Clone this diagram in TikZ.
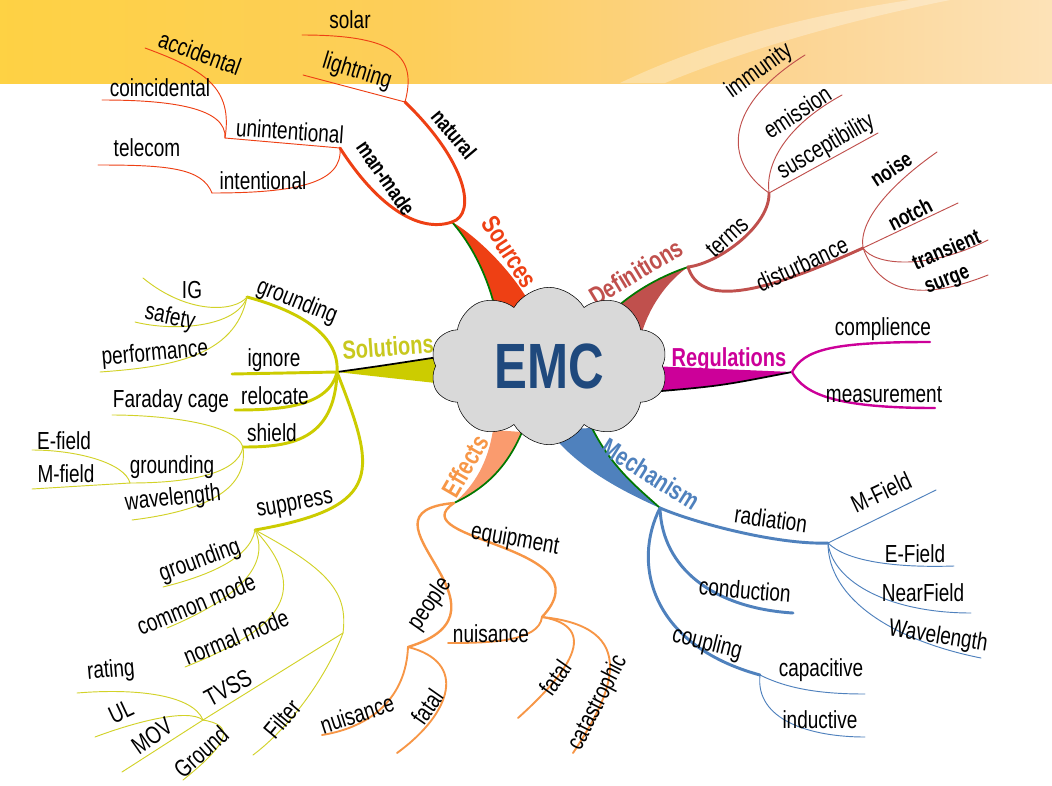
\documentclass[tikz,border=0pt]{standalone}
\usepackage{fontspec}
\setmainfont{Liberation Sans}[FakeStretch=0.77]
\usetikzlibrary{shapes.symbols}

\definecolor{srcc}{RGB}{238,64,20}
\definecolor{defc}{RGB}{192,80,77}
\definecolor{regc}{RGB}{204,0,153}
\definecolor{mecc}{RGB}{79,129,189}
\definecolor{effc}{RGB}{247,150,70}
\definecolor{effl}{RGB}{250,155,110}
\definecolor{solc}{RGB}{204,204,0}
\definecolor{sollc}{RGB}{210,210,40}
\definecolor{solt}{RGB}{200,200,30}
\definecolor{grn}{RGB}{0,120,0}
\definecolor{cloudc}{RGB}{217,217,217}
\definecolor{emcc}{RGB}{31,73,125}
\definecolor{bandA}{RGB}{255,214,40}
\definecolor{bandB}{RGB}{253,206,90}
\definecolor{bandC}{RGB}{252,212,145}
\definecolor{bandD}{RGB}{253,236,210}
\pgfdeclarehorizontalshading{bandshade}{100bp}{color(0bp)=(bandA); color(45bp)=(bandB); color(62bp)=(bandC); color(84bp)=(bandD); color(94bp)=(white); color(100bp)=(white)}

\newcommand\lblfont{\fontsize{18.5}{20}\selectfont}
\newcommand\boldlblfont{\bfseries\fontsize{16.5}{18}\selectfont}
\newcommand\headfont{\bfseries\fontsize{19.5}{21}\selectfont}

\tikzset{
  lbl/.style={font=\lblfont, inner sep=0pt},
  blbl/.style={font=\boldlblfont, inner sep=0pt},
  headlbl/.style={font=\headfont, inner sep=0pt},
  fat/.style={line width=2.2pt},
  twig/.style={line width=0.7pt},
  rim/.style={line width=1.3pt},
}

\begin{document}
\begin{tikzpicture}[x=0.75pt, y=-0.75pt, line cap=round, line join=round]
\useasboundingbox (0,0) rectangle (1052,785);
\fill[white] (0,0) rectangle (1052,785);
% Top band
\shade[shading=bandshade] (0,0) rectangle (1052,83);
\fill[white, opacity=0.3] (620,83) .. controls (710,40) and (810,15) .. (910,0) -- (950,0) .. controls (840,22) and (740,52) .. (665,83) -- cycle;

% Sources
\coordinate (SJ) at (452,222);
\coordinate (SrcA) at (497,318);
\coordinate (SrcB) at (528,300);
\fill[srcc] (SJ) .. controls (478,252) and (492,290) .. (SrcA) -- (SrcB) .. controls (505,262) and (470,232) .. (SJ);
\draw[grn,rim] (SJ) .. controls (478,252) and (492,290) .. (SrcA);
\coordinate (NatE) at (405,102);
\coordinate (ManE) at (340,148);
\draw[srcc,fat] (SJ) .. controls +(25,-8) and +(62,60) .. (NatE);
\draw[srcc,fat] (SJ) .. controls +(-35,12) and +(35,55) .. (ManE);
\node[blbl,rotate=-50] (natural) at (454,134) {natural};
\node[blbl,rotate=-55] (manmade) at (386,178) {man-made};
\coordinate (LigE) at (303,75);
\coordinate (SolE) at (302,35);
\draw[srcc,twig] (NatE) -- (LigE);
\draw[srcc,twig] (NatE) .. controls +(12,-45) and +(95,0) .. (SolE);
\node[lbl,rotate=-17] (lightning) at (357,72) {lightning};
\node[lbl] (solar) at (350,20) {solar};
\coordinate (UniE) at (225,138);
\coordinate (IntE) at (212,193);
\draw[srcc,twig] (ManE) -- (UniE);
\draw[srcc,twig] (ManE) .. controls +(3,35) and +(85,0) .. (IntE);
\node[lbl,rotate=-4] (unint) at (290,131) {unintentional};
\node[lbl] (intent) at (263,181) {intentional};
\coordinate (CoiE) at (102,100);
\coordinate (AccE) at (145,48);
\coordinate (TelE) at (98,165);
\draw[srcc,twig] (UniE) .. controls +(2,-30) and +(70,0) .. (CoiE);
\draw[srcc,twig] (UniE) .. controls +(8,-50) and +(60,22) .. (AccE);
\draw[srcc,twig] (IntE) .. controls +(-10,-25) and +(70,0) .. (TelE);
\node[lbl] (coinc) at (160,88) {coincidental};
\node[lbl,rotate=-20] (accid) at (200,53) {accidental};
\node[lbl] (telecom) at (147,148) {telecom};
\node[headlbl,text=srcc,rotate=-57] (sources) at (510,252) {Sources};

% Definitions
\coordinate (DJ) at (688,267);
\coordinate (DefA) at (598,326);
\coordinate (DefB) at (642,332);
\fill[defc] (DJ) .. controls (655,278) and (622,298) .. (DefA) -- (DefB) .. controls (652,300) and (672,278) .. (DJ);
\draw[grn,rim] (DJ) .. controls (655,278) and (622,298) .. (DefA);
\coordinate (TerE) at (769,193);
\coordinate (DisE) at (863,248);
\draw[defc,fat] (DJ) .. controls +(32,-4) and +(1,32) .. (TerE);
\draw[defc,fat] (DJ) .. controls +(12,38) and +(-110,50) .. (DisE);
\node[lbl,rotate=42] (terms) at (727,237) {terms};
\node[lbl,rotate=25] (disturb) at (802,264) {disturbance};
\coordinate (ImmE) at (805,55);
\coordinate (EmiE) at (842,95);
\coordinate (SusE) at (878,133);
\draw[defc,twig] (TerE) .. controls +(-47,-33) and +(-80,50) .. (ImmE);
\draw[defc,twig] (TerE) .. controls +(-4,-30) and +(-55,30) .. (EmiE);
\draw[defc,twig] (TerE) -- (SusE);
\node[lbl,rotate=36] (immun) at (759,71) {immunity};
\node[lbl,rotate=33] (emiss) at (797,112) {emission};
\node[lbl,rotate=30] (suscep) at (826,147) {susceptibility};
\coordinate (NoiE) at (937,152);
\coordinate (NotE) at (958,203);
\coordinate (TraE) at (988,240);
\coordinate (SurE) at (988,275);
\draw[defc,twig] (DisE) .. controls +(-5,-30) and +(-40,28) .. (NoiE);
\draw[defc,twig] (DisE) -- (NotE);
\draw[defc,twig] (DisE) .. controls +(12,18) and +(-60,30) .. (TraE);
\draw[defc,twig] (DisE) .. controls +(15,40) and +(-75,30) .. (SurE);
\node[blbl,rotate=33] (noise) at (891,169) {noise};
\node[blbl,rotate=27] (notch) at (910,214) {notch};
\node[blbl,rotate=23] (transient) at (946,249) {transient};
\node[blbl,rotate=22] (surge) at (948,282) {surge};
\node[headlbl,text=defc,rotate=31] (defin) at (636,272) {Definitions};

% Regulations
\coordinate (RJ) at (792,372);
\coordinate (RegA) at (650,366);
\coordinate (RegB) at (650,392);
\fill[regc] (RJ) -- (RegA) -- (RegB) .. controls (720,386) .. (RJ);
\draw[black,rim] (RegB) .. controls (720,386) .. (RJ);
\coordinate (ComE) at (930,342);
\coordinate (MeaE) at (935,408);
\draw[regc,line width=1.8pt] (RJ) .. controls +(12,-22) and +(-100,0) .. (ComE);
\draw[regc,line width=1.8pt] (RJ) .. controls +(12,22) and +(-100,0) .. (MeaE);
\node[lbl] (compl) at (883,329) {complience};
\node[lbl] (measure) at (884,395) {measurement};
\node[headlbl,text=regc] (regul) at (729,360) {Regulations};

% Mechanism
\coordinate (MJ) at (660,508);
\coordinate (MecA) at (548,430);
\coordinate (MecB) at (592,428);
\fill[mecc] (MJ) .. controls (615,488) and (575,465) .. (MecA) -- (MecB) .. controls (612,468) and (638,488) .. (MJ);
\draw[grn,rim] (MecB) .. controls (612,468) and (638,488) .. (MJ);
\coordinate (RadE) at (828,543);
\coordinate (ConE) at (793,613);
\coordinate (CouE) at (760,675);
\draw[mecc,fat] (MJ) .. controls +(35,15) and +(-50,2) .. (RadE);
\draw[mecc,fat] (MJ) .. controls +(2,60) and +(-80,-5) .. (ConE);
\draw[mecc,fat] (MJ) .. controls +(-28,55) and +(-110,-30) .. (CouE);
\node[lbl,rotate=-8] (radiat) at (771,519) {radiation};
\node[lbl,rotate=-5] (conduct) at (745,590) {conduction};
\node[lbl,rotate=-14] (coupl) at (707,644) {coupling};
\coordinate (MfE) at (936,490);
\coordinate (EfE) at (954,566);
\coordinate (NfE) at (971,613);
\coordinate (WlE) at (981,658);
\draw[mecc,twig] (RadE) -- (MfE);
\draw[mecc,twig] (RadE) .. controls +(18,18) and +(-60,2) .. (EfE);
\draw[mecc,twig] (RadE) .. controls +(5,40) and +(-80,0) .. (NfE);
\draw[mecc,twig] (RadE) .. controls +(0,55) and +(-90,-18) .. (WlE);
\node[lbl,rotate=25] (mfield) at (881,492) {M-Field};
\node[lbl] (efield) at (915,554) {E-Field};
\node[lbl] (nearf) at (923,593) {NearField};
\node[lbl,rotate=-9] (wavel) at (938,637) {Wavelength};
\coordinate (CapE) at (865,694);
\coordinate (IndE) at (865,737);
\draw[mecc,twig] (CouE) .. controls +(30,15) and +(-40,0) .. (CapE);
\draw[mecc,twig] (CouE) .. controls +(-5,45) and +(-55,0) .. (IndE);
\node[lbl] (capac) at (821,670) {capacitive};
\node[lbl] (induc) at (820,720) {inductive};
\node[headlbl,text=mecc,rotate=-32] (mech) at (651,474) {Mechanism};

% Effects
\coordinate (EJ) at (454,503);
\coordinate (EffA) at (493,430);
\coordinate (EffB) at (522,432);
\fill[effl] (EJ) .. controls (475,485) and (488,462) .. (EffA) -- (EffB) .. controls (506,470) and (482,490) .. (EJ);
\draw[grn,rim] (EffB) .. controls (506,470) and (482,490) .. (EJ);
\coordinate (PeoE) at (408,647);
\coordinate (EquE) at (542,617);
\draw[effc,line width=1.8pt] (EJ) .. controls +(-110,10) and +(122,-37) .. (PeoE);
\draw[effc,line width=1.8pt] (EJ) .. controls +(-56,38) and +(68,-72) .. (EquE);
\node[lbl,rotate=55] (people) at (430,604) {people};
\node[lbl,rotate=-10] (equip) at (515,540) {equipment};
\coordinate (Nu1E) at (322,735);
\coordinate (Fa1E) at (397,753);
\draw[effc,line width=1.4pt] (PeoE) .. controls +(-2,50) and +(50,-8) .. (Nu1E);
\draw[effc,line width=1.4pt] (PeoE) .. controls +(60,15) and +(55,-40) .. (Fa1E);
\node[lbl,rotate=18] (nuis1) at (357,714) {nuisance};
\node[lbl,rotate=55] (fatal1) at (427,707) {fatal};
\coordinate (Nu2E) at (448,643);
\coordinate (Fa2E) at (518,718);
\coordinate (CatE) at (573,753);
\draw[effc,line width=1.4pt] (EquE) .. controls +(-3,25) and +(40,0) .. (Nu2E);
\draw[effc,line width=1.4pt] (EquE) .. controls +(60,10) and +(50,-45) .. (Fa2E);
\draw[effc,line width=1.4pt] (EquE) .. controls +(100,10) and +(40,-60) .. (CatE);
\node[lbl] (nuis2) at (491,634) {nuisance};
\node[lbl,rotate=55] (fatal2) at (555,678) {fatal};
\node[lbl,rotate=63] (catast) at (598,703) {catastrophic};
\node[headlbl,text=effc,rotate=60] (effects) at (465,466) {Effects};

% Solutions
\coordinate (LJ) at (337,372);
\coordinate (SolA) at (445,356);
\coordinate (SolB) at (445,384);
\fill[solc] (LJ) .. controls (380,366) .. (SolA) -- (SolB) .. controls (390,378) .. (LJ);
\draw[black,rim] (LJ) .. controls (380,366) .. (SolA);
\coordinate (GrE) at (247,297);
\coordinate (IgnE) at (232,374);
\coordinate (RelE) at (235,410);
\coordinate (ShE) at (243,447);
\coordinate (SupE) at (255,530);
\draw[solc,fat] (LJ) .. controls +(3,-40) and +(45,12) .. (GrE);
\draw[solc,fat] (LJ) -- (IgnE);
\draw[solc,fat] (LJ) .. controls +(-8,35) and +(45,0) .. (RelE);
\draw[solc,fat] (LJ) .. controls +(-2,70) and +(45,0) .. (ShE);
\draw[solc,fat] (LJ) .. controls +(38,98) and +(132,-23) .. (SupE);
\node[lbl,rotate=-22] (ground1) at (297,302) {grounding};
\node[lbl] (ignore) at (274,360) {ignore};
\node[lbl] (reloc) at (275,396) {relocate};
\node[lbl] (shield) at (272,433) {shield};
\node[lbl,rotate=10] (suppr) at (295,506) {suppress};
\coordinate (IGE) at (143,278);
\coordinate (SafE) at (135,322);
\coordinate (PerE) at (100,372);
\draw[sollc,twig] (GrE) .. controls +(-12,15) and +(45,37) .. (IGE);
\draw[sollc,twig] (GrE) .. controls +(-10,30) and +(40,10) .. (SafE);
\draw[sollc,twig] (GrE) .. controls +(-12,60) and +(70,-5) .. (PerE);
\node[lbl] (ig) at (192,290) {IG};
\node[lbl,rotate=-12] (safety) at (170,318) {safety};
\node[lbl,rotate=5] (perf) at (155,354) {performance};
\coordinate (FarE) at (112,415);
\coordinate (Gr2E) at (130,483);
\coordinate (WavE) at (132,520);
\draw[sollc,twig] (ShE) .. controls +(-8,-25) and +(45,0) .. (FarE);
\draw[sollc,twig] (ShE) .. controls +(-5,28) and +(55,0) .. (Gr2E);
\draw[sollc,twig] (ShE) .. controls +(5,40) and +(80,-10) .. (WavE);
\node[lbl] (faraday) at (171,401) {Faraday cage};
\node[lbl] (ground2) at (172,467) {grounding};
\node[lbl,rotate=6] (wave2) at (173,499) {wavelength};
\coordinate (EfdE) at (32,450);
\coordinate (MfdE) at (32,489);
\draw[sollc,twig] (Gr2E) .. controls +(-5,-20) and +(45,0) .. (EfdE);
\draw[sollc,twig] (Gr2E) -- (MfdE);
\node[lbl] (efd) at (64,441) {E-field};
\node[lbl] (mfd) at (66,474) {M-field};
\coordinate (Gr3E) at (163,587);
\coordinate (CmE) at (167,628);
\coordinate (NmE) at (185,667);
\coordinate (FilJ) at (343,633);
\coordinate (TvE) at (203,720);
\coordinate (FilE) at (253,755);
\draw[sollc,twig] (SupE) .. controls +(-5,30) and +(40,-10) .. (Gr3E);
\draw[sollc,twig] (SupE) .. controls +(18,40) and +(60,-25) .. (CmE);
\draw[sollc,twig] (SupE) .. controls +(55,60) and +(100,-40) .. (NmE);
\draw[sollc,twig] (SupE) .. controls +(75,40) and +(5,-40) .. (FilJ) -- (TvE);
\draw[sollc,twig] (FilJ) .. controls +(-15,40) and +(40,-30) .. (FilE);
\node[lbl,rotate=20] (ground3) at (200,561) {grounding};
\node[lbl,rotate=22] (cmode) at (196,604) {common mode};
\node[lbl,rotate=22] (nmode) at (236,637) {normal mode};
\node[lbl,rotate=28] (tvss) at (228,688) {TVSS};
\node[lbl,rotate=50] (filter) at (282,719) {Filter};
\coordinate (RatE) at (77,693);
\coordinate (ULE) at (95,737);
\coordinate (MovE) at (122,772);
\coordinate (GndE) at (183,780);
\draw[sollc,twig] (TvE) .. controls +(-10,-25) and +(60,-5) .. (RatE);
\draw[sollc,twig] (TvE) .. controls +(-15,-12) and +(40,-15) .. (ULE);
\draw[sollc,twig] (TvE) -- (MovE);
\draw[sollc,twig] (TvE) .. controls +(30,5) and +(50,-40) .. (GndE);
\node[lbl,rotate=5] (rating) at (111,671) {rating};
\node[lbl,rotate=25] (ul) at (121,712) {UL};
\node[lbl,rotate=35] (mov) at (152,736) {MOV};
\node[lbl,rotate=42] (gnd) at (201,752) {Ground};
\node[headlbl,text=solt,rotate=4] (solut) at (388,347) {Solutions};

% Centre
\node[cloud, cloud puffs=10, cloud puff arc=120, aspect=1.5, draw, fill=cloudc,
      minimum width=178pt, minimum height=118pt, inner sep=0pt,
      font=\bfseries\fontsize{48}{50}\selectfont, text=emcc] (emc) at (549,366) {EMC};
\end{tikzpicture}
\end{document}
